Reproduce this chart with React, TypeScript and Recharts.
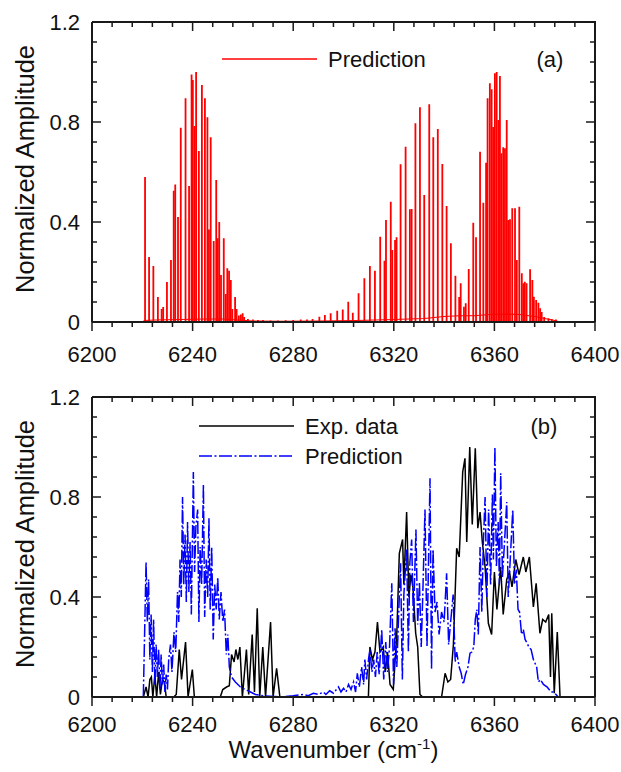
import React from 'react';
import { ComposedChart, Line, Bar, Scatter, XAxis, YAxis, Legend, Label } from 'recharts';

// axes
const wavenumberTicks = [6200, 6240, 6280, 6320, 6360, 6400];
const amplitudeTicks = [0, 0.4, 0.8, 1.2];
const amplitudeTickLabels = ['0', '0.4', '0.8', '1.2'];
const wavenumberMinorStep = 8;
const amplitudeMinorStep = 0.08;

// (a) predicted line positions / strengths
const stickWavenumbers = [
  6221.1, 6222.7, 6224.4, 6226.2, 6227.7, 6228.3, 6229.8, 6231.4, 6232.5, 6233.1,
  6234.2, 6235.3, 6237.2, 6238.6, 6239.6, 6240.1, 6240.8, 6241.4, 6242.5, 6243.7,
  6244.9, 6245.9, 6246.5, 6247.2, 6248.4, 6249.4, 6250.0, 6250.6, 6251.3, 6252.4,
  6253.2, 6253.8, 6254.5, 6255.2, 6255.8, 6256.9, 6257.5, 6258.4, 6259.2, 6259.9,
  6260.5, 6262.0, 6264.0, 6266.0, 6268.0, 6271.0, 6274.0, 6277.0, 6280.0, 6283.0,
  6285.5, 6287.7, 6290.4, 6292.6, 6294.9, 6297.5, 6299.7, 6301.9, 6303.7, 6306.0,
  6308.3, 6310.5, 6312.5, 6314.6, 6316.3, 6316.9, 6318.8, 6319.4, 6320.5, 6321.1,
  6322.7, 6324.7, 6326.4, 6327.1, 6328.6, 6330.4, 6332.1, 6334.1, 6335.7, 6337.5,
  6339.3, 6341.0, 6342.7, 6344.5, 6346.0, 6346.6, 6347.9, 6348.6, 6349.8, 6351.6,
  6352.7, 6354.3, 6355.6, 6356.7, 6357.3, 6358.2, 6358.9, 6359.5, 6360.2, 6360.9,
  6361.6, 6362.2, 6362.8, 6363.5, 6364.2, 6364.9, 6365.5, 6366.2, 6367.1, 6368.2,
  6368.9, 6369.9, 6370.9, 6371.5, 6372.1, 6372.8, 6374.2, 6375.1, 6375.7, 6376.6,
  6377.5, 6378.2, 6378.8, 6379.8, 6381.5, 6382.8, 6384.5,
];
const stickAmplitudes = [
  0.58, 0.26, 0.224, 0.1, 0.052, 0.06, 0.16, 0.248, 0.525, 0.55,
  0.42, 0.777, 0.895, 0.544, 0.99, 0.968, 0.784, 1.0, 0.684, 0.948,
  0.895, 0.819, 0.37, 0.739, 0.324, 0.568, 0.335, 0.4, 0.188, 0.335,
  0.112, 0.215, 0.205, 0.168, 0.052, 0.1, 0.052, 0.026, 0.03, 0.035,
  0.02, 0.012, 0.01, 0.008, 0.008, 0.006, 0.006, 0.007, 0.008, 0.01,
  0.01, 0.012, 0.021, 0.028, 0.035, 0.045, 0.05, 0.081, 0.037, 0.115,
  0.175, 0.224, 0.205, 0.341, 0.245, 0.408, 0.481, 0.288, 0.328, 0.339,
  0.631, 0.701, 0.451, 0.452, 0.795, 0.859, 0.508, 0.871, 0.739, 0.772,
  0.632, 0.464, 0.315, 0.185, 0.1, 0.155, 0.061, 0.075, 0.212, 0.397,
  0.339, 0.681, 0.477, 0.637, 0.895, 0.955, 0.931, 0.78, 0.995, 1.0,
  0.808, 0.984, 0.675, 0.699, 0.695, 0.808, 0.408, 0.411, 0.455, 0.455,
  0.248, 0.461, 0.195, 0.155, 0.161, 0.155, 0.211, 0.168, 0.101, 0.088,
  0.077, 0.055, 0.04, 0.02, 0.015, 0.012, 0.01,
];
// weak background under the lines
const floorWavenumbers = [6220.5, 6225, 6235, 6245, 6252, 6258, 6264, 6275, 6290, 6305, 6320, 6332, 6340, 6346, 6352, 6358, 6364, 6370, 6376, 6381, 6385];
const floorAmplitudes = [0.006, 0.008, 0.01, 0.012, 0.012, 0.008, 0.004, 0.003, 0.004, 0.006, 0.01, 0.014, 0.022, 0.025, 0.025, 0.03, 0.032, 0.03, 0.022, 0.012, 0.004];

// (b) measured spectrum
const expWavenumbers = [
  6220.4, 6221.5, 6222.3, 6223.0, 6223.6, 6224.2, 6225.0, 6225.7, 6226.5, 6227.2,
  6228.0, 6228.8, 6229.5, 6232.5, 6233.5, 6234.7, 6235.6, 6237.2, 6238.2, 6239.9,
  6240.7, 6251.0, 6252.0, 6253.5, 6254.6, 6255.5, 6256.5, 6257.2, 6258.0, 6258.8,
  6259.8, 6261.4, 6262.3, 6263.7, 6264.6, 6265.7, 6266.7, 6267.9, 6269.0, 6271.0,
  6272.0, 6273.4, 6274.7, 6309.9, 6310.5, 6311.5, 6312.5, 6313.5, 6314.5, 6315.8,
  6316.6, 6317.5, 6318.5, 6319.8, 6321.2, 6322.2, 6323.5, 6324.0, 6325.1, 6326.0,
  6326.8, 6327.6, 6328.7, 6329.5, 6330.4, 6331.5, 6339.0, 6340.4, 6341.5, 6342.6,
  6343.7, 6345.0, 6346.0, 6347.4, 6348.3, 6349.0, 6350.2, 6351.2, 6352.4, 6353.4,
  6354.3, 6355.2, 6356.3, 6357.6, 6358.9, 6360.0, 6361.0, 6362.5, 6363.5, 6364.9,
  6366.0, 6367.0, 6368.5, 6369.8, 6371.5, 6372.5, 6373.9, 6375.5, 6376.6, 6378.1,
  6379.2, 6380.4, 6381.6, 6382.3, 6382.8, 6383.8, 6385.0, 6386.1,
];
const expAmplitudes = [
  0, 0.04, 0, 0.07, 0.08, 0, 0.09, 0, 0.1, 0.01,
  0.07, 0.06, 0, 0, 0.01, 0.19, 0.07, 0.22, 0, 0.11,
  0, 0, 0.03, 0.04, 0.045, 0.17, 0.14, 0.19, 0.15, 0.2,
  0, 0.19, 0.01, 0.25, 0.02, 0.355, 0, 0.2, 0, 0.3,
  0, 0.115, 0, 0, 0.2, 0.15, 0.18, 0.3, 0.18, 0.2,
  0.1, 0.18, 0.05, 0.03, 0.255, 0.575, 0.63, 0.45, 0.74, 0.4,
  0.49, 0.44, 0.255, 0.2, 0.01, 0, 0, 0.095, 0.06, 0.07,
  0.21, 0.595, 0.56, 0.9, 0.955, 0.62, 1.0, 0.69, 0.995, 0.675,
  0.74, 0.62, 0.52, 0.295, 0.25, 0.5, 0.35, 0.52, 0.33, 0.47,
  0.5, 0.44, 0.55, 0.49, 0.56, 0.5, 0.56, 0.36, 0.455, 0.255,
  0.31, 0.3, 0.33, 0.08, 0.335, 0.015, 0.26, 0,
];

// (b) predicted spectrum
const predWavenumbers = [
  6220.4, 6221.5, 6222.0, 6222.5, 6223.0, 6223.5, 6224.0, 6224.5, 6225.0, 6225.5,
  6226.0, 6226.5, 6227.0, 6227.5, 6228.0, 6228.5, 6229.0, 6229.5, 6230.0, 6230.5,
  6231.2, 6231.8, 6232.6, 6233.3, 6234.0, 6234.5, 6235.0, 6235.5, 6236.0, 6236.5,
  6237.0, 6237.5, 6238.0, 6238.5, 6239.0, 6239.5, 6240.3, 6240.8, 6241.3, 6242.0,
  6242.5, 6243.0, 6243.6, 6244.3, 6244.8, 6245.4, 6246.0, 6246.5, 6247.0, 6247.6,
  6248.2, 6248.8, 6249.4, 6250.0, 6250.6, 6251.3, 6252.0, 6252.7, 6253.4, 6254.0,
  6254.6, 6255.5, 6257.0, 6259.0, 6261.0, 6263.0, 6265.0, 6268.0, 6275.0, 6280.0,
  6284.0, 6286.0, 6288.0, 6290.0, 6292.0, 6293.0, 6294.5, 6296.0, 6298.0, 6299.0,
  6300.0, 6301.0, 6302.0, 6303.0, 6304.0, 6304.8, 6305.5, 6306.3, 6307.2, 6308.0,
  6308.5, 6309.2, 6310.0, 6310.5, 6311.3, 6312.0, 6312.7, 6313.4, 6314.2, 6315.2,
  6316.0, 6316.8, 6317.5, 6318.3, 6319.2, 6319.9, 6320.5, 6321.2, 6322.0, 6322.7,
  6323.4, 6324.0, 6325.1, 6325.8, 6326.4, 6327.1, 6327.8, 6328.8, 6329.5, 6330.2,
  6330.9, 6331.5, 6332.4, 6333.2, 6334.4, 6335.0, 6335.6, 6336.4, 6337.2, 6338.0,
  6339.0, 6340.0, 6341.0, 6341.8, 6342.6, 6343.6, 6344.4, 6345.0, 6346.0, 6346.8,
  6347.6, 6348.5, 6349.5, 6350.3, 6351.0, 6351.8, 6352.4, 6353.0, 6353.6, 6354.3,
  6355.0, 6355.6, 6356.3, 6357.0, 6357.7, 6358.5, 6359.2, 6359.6, 6360.2, 6360.8,
  6361.5, 6362.0, 6362.5, 6363.2, 6364.0, 6364.9, 6365.5, 6366.3, 6367.3, 6368.0,
  6368.7, 6369.4, 6370.0, 6370.8, 6371.5, 6372.2, 6372.8, 6373.7, 6374.6, 6375.5,
  6376.8, 6377.5, 6378.3, 6379.5, 6381.0, 6382.5, 6383.4, 6384.5, 6385.4,
];
const predAmplitudes = [
  0, 0.54, 0.3, 0.47, 0.15, 0.33, 0.1, 0.31, 0.05, 0.21,
  0.08, 0.19, 0.03, 0.17, 0.05, 0.13, 0.02, 0.09, 0.03, 0.15,
  0.21, 0.1, 0.26, 0.18, 0.42, 0.3, 0.55, 0.4, 0.8, 0.45,
  0.65, 0.38, 0.7, 0.42, 0.62, 0.33, 0.9, 0.5, 0.68, 0.75,
  0.3, 0.6, 0.45, 0.85, 0.32, 0.55, 0.4, 0.715, 0.35, 0.6,
  0.23, 0.45, 0.35, 0.48, 0.31, 0.42, 0.3, 0.35, 0.17, 0.25,
  0.12, 0.08, 0.06, 0.04, 0.03, 0.02, 0.01, 0.005, 0, 0.005,
  0.01, 0.005, 0.015, 0.01, 0.02, 0.01, 0.025, 0.015, 0.04, 0.02,
  0.035, 0.02, 0.05, 0.03, 0.06, 0.02, 0.095, 0.04, 0.12, 0.05,
  0.15, 0.07, 0.155, 0.19, 0.1, 0.15, 0.08, 0.18, 0.09, 0.27,
  0.07, 0.22, 0.1, 0.2, 0.455, 0.05, 0.275, 0.12, 0.35, 0.535,
  0.07, 0.41, 0.59, 0.18, 0.54, 0.63, 0.3, 0.67, 0.29, 0.46,
  0.2, 0.4, 0.75, 0.2, 0.875, 0.11, 0.59, 0.34, 0.38, 0.25,
  0.34, 0.3, 0.495, 0.21, 0.3, 0.41, 0.14, 0.18, 0.12, 0.095,
  0.05, 0.09, 0.12, 0.175, 0.18, 0.2, 0.31, 0.35, 0.25, 0.6,
  0.34, 0.615, 0.8, 0.4, 0.75, 0.45, 0.81, 0.55, 1.0, 0.52,
  0.7, 0.45, 0.895, 0.48, 0.615, 0.78, 0.4, 0.55, 0.75, 0.45,
  0.51, 0.35, 0.34, 0.25, 0.27, 0.23, 0.22, 0.2, 0.19, 0.15,
  0.12, 0.06, 0.07, 0.05, 0.04, 0.02, 0.02, 0.01, 0,
];

const stickRows = stickWavenumbers.map((wn, i) => ({ wn, amp: stickAmplitudes[i] }));
const floorRows = floorWavenumbers.map((wn, i) => ({ wn, amp: floorAmplitudes[i] }));
const expRows = expWavenumbers.map((wn, i) => ({ wn, amp: expAmplitudes[i] }));
const predRows = predWavenumbers.map((wn, i) => ({ wn, amp: predAmplitudes[i] }));

const X_MIN = 6200;
const X_MAX = 6400;
const Y_MAX = 1.2;
const xMinorTicks = Array.from({ length: 26 }, (_, i) => X_MIN + i * wavenumberMinorStep);
const yMinorTicks = Array.from({ length: 16 }, (_, i) => +(i * amplitudeMinorStep).toFixed(2));

const isMajorX = (v: number) => wavenumberTicks.includes(v);
const majorYIndex = (v: number) => amplitudeTicks.findIndex((t) => Math.abs(t - v) < 1e-6);

// frame and tick-mark positions, placed through the chart's own scales
const frameRows = [
  { wn: X_MIN, amp: Y_MAX },
  { wn: X_MAX, amp: Y_MAX },
  { wn: X_MAX, amp: 0 },
];
const topTickRows = xMinorTicks.map((wn) => ({ wn, amp: Y_MAX, major: isMajorX(wn) }));
const bottomTickRows = xMinorTicks.map((wn) => ({ wn, amp: 0, major: isMajorX(wn) }));
const leftTickRows = yMinorTicks.map((amp) => ({ wn: X_MIN, amp, major: majorYIndex(amp) >= 0 }));
const rightTickRows = yMinorTicks.map((amp) => ({ wn: X_MAX, amp, major: majorYIndex(amp) >= 0 }));

const FONT = '"Liberation Sans", Arial, sans-serif';
const AXIS = '#1a1a1a';
const MAJOR = 9;
const MINOR = 5;

const CHART_W = 621;
const Y_AXIS_W = 92;
const X_AXIS_H = 40;
const M_TOP = 22;
const M_RIGHT = 26;
const TOP_H = 375;
const BOTTOM_H = 397;
const PLOT_H = 300;

const tickLen = (p: any) => (p.payload && p.payload.major ? MAJOR : MINOR);
const DownTick = (p: any) => <rect x={p.cx - 0.75} y={p.cy} width={1.5} height={tickLen(p)} fill={AXIS} />;
const RightwardTick = (p: any) => <rect x={p.cx} y={p.cy - 0.75} width={tickLen(p)} height={1.5} fill={AXIS} />;
const LeftwardTick = (p: any) => <rect x={p.cx - tickLen(p)} y={p.cy - 0.75} width={tickLen(p)} height={1.5} fill={AXIS} />;

const makeBottomLabel = (labelGap: number) => (props: any) => {
  const v = props.payload.value;
  if (!isMajorX(v)) return <g />;
  return (
    <text x={props.x} y={props.y + labelGap} textAnchor="middle" fontSize={22} fontFamily={FONT} fill="#111">
      {v}
    </text>
  );
};

const LeftLabel = (props: any) => {
  const idx = majorYIndex(props.payload.value);
  if (idx < 0) return <g />;
  return (
    <text x={props.x - 12} y={props.y + 8} textAnchor="end" fontSize={22} fontFamily={FONT} fill="#111">
      {amplitudeTickLabels[idx]}
    </text>
  );
};

// fixed-width stick drawn at the bar's centre
const Stick = (p: any) => {
  if (!p.height) return null;
  return <rect x={p.x + p.width / 2 - 0.9} y={p.y} width={1.8} height={p.height} fill="#ff0000" />;
};

const YTitle = ({ viewBox }: any) => {
  const cy = viewBox.y + viewBox.height / 2 - 3;
  return (
    <text x={34} y={cy} transform={`rotate(-90, 34, ${cy})`} textAnchor="middle" fontSize={25.5} fontFamily={FONT} fill="#111">
      Normalized Amplitude
    </text>
  );
};

const XTitle = ({ viewBox }: any) => (
  <text x={viewBox.x + viewBox.width / 2 - 10} y={viewBox.y + 61} textAnchor="middle" fontSize={24} fontFamily={FONT} fill="#111">
    Wavenumber (cm
    <tspan fontSize={15} dy={-9}>-1</tspan>
    <tspan dy={9}>)</tspan>
  </text>
);

const makeLegend = (rowY: number[], lineX: [number, number], tag: string, tagX: number) => ({ payload }: any) => {
  const items = (payload || []).filter((e: any) => e.type !== 'none' && !e.inactive && e.value);
  return (
    <svg width={CHART_W} height={100} style={{ display: 'block' }}>
      {items.slice(0, rowY.length).map((entry: any, i: number) => (
        <g key={entry.value}>
          <line
            x1={lineX[0]}
            x2={lineX[1]}
            y1={rowY[i]}
            y2={rowY[i]}
            stroke={entry.color}
            strokeWidth={1.6}
            strokeDasharray={entry.payload?.strokeDasharray}
          />
          <text x={lineX[1] + 11} y={rowY[i] + 8} fontSize={22} fontFamily={FONT} fill="#111">
            {entry.value}
          </text>
        </g>
      ))}
      <text x={tagX} y={rowY[0] + 8} textAnchor="middle" fontSize={22} fontFamily={FONT} fill="#111">
        {tag}
      </text>
    </svg>
  );
};

const axes = (withTitle: boolean, labelGap: number) => [
  <XAxis
    key="xb"
    xAxisId="b"
    dataKey="wn"
    type="number"
    domain={[X_MIN, X_MAX]}
    ticks={xMinorTicks}
    interval={0}
    tickSize={0}
    tickMargin={0}
    tickLine={false}
    tick={makeBottomLabel(labelGap)}
    height={X_AXIS_H}
    axisLine={{ stroke: AXIS, strokeWidth: 2 }}
  >
    {withTitle && <Label content={XTitle} />}
  </XAxis>,
  <YAxis
    key="yl"
    yAxisId="l"
    type="number"
    domain={[0, Y_MAX]}
    ticks={yMinorTicks}
    interval={0}
    tickSize={0}
    tickMargin={0}
    tickLine={false}
    tick={LeftLabel}
    width={Y_AXIS_W}
    axisLine={{ stroke: AXIS, strokeWidth: 2 }}
  >
    <Label content={YTitle} />
  </YAxis>,
];

const frame = () => [
  <Line
    key="frame"
    xAxisId="b"
    yAxisId="l"
    data={frameRows}
    dataKey="amp"
    stroke={AXIS}
    strokeWidth={2}
    dot={false}
    legendType="none"
    isAnimationActive={false}
  />,
  <Scatter key="tt" xAxisId="b" yAxisId="l" data={topTickRows} dataKey="amp" shape={DownTick} legendType="none" isAnimationActive={false} />,
  <Scatter key="bt" xAxisId="b" yAxisId="l" data={bottomTickRows} dataKey="amp" shape={DownTick} legendType="none" isAnimationActive={false} />,
  <Scatter key="lt" xAxisId="b" yAxisId="l" data={leftTickRows} dataKey="amp" shape={RightwardTick} legendType="none" isAnimationActive={false} />,
  <Scatter key="rt" xAxisId="b" yAxisId="l" data={rightTickRows} dataKey="amp" shape={LeftwardTick} legendType="none" isAnimationActive={false} />,
];

export default function App() {
  return (
    <div style={{ position: 'absolute', left: 0, top: 0, width: CHART_W, height: 772, background: '#fff' }}>
      <ComposedChart
        width={CHART_W}
        height={TOP_H}
        data={stickRows}
        margin={{ top: M_TOP, right: M_RIGHT, left: 0, bottom: TOP_H - M_TOP - PLOT_H - X_AXIS_H }}
      >
        {axes(false, 40)}
        <Line
          xAxisId="b"
          yAxisId="l"
          data={floorRows}
          dataKey="amp"
          stroke="#ff0000"
          strokeWidth={1.2}
          dot={false}
          legendType="none"
          isAnimationActive={false}
        />
        <Bar
          xAxisId="b"
          yAxisId="l"
          dataKey="amp"
          name="Prediction"
          fill="#ff0000"
          barSize={2}
          shape={Stick}
          isAnimationActive={false}
        />
        {frame()}
        <Legend
          layout="vertical"
          align="center"
          verticalAlign="middle"
          wrapperStyle={{ position: 'absolute', left: 0, top: 0, width: CHART_W, height: 100 }}
          content={makeLegend([59], [222, 317], '(a)', 550)}
        />
      </ComposedChart>
      <ComposedChart
        width={CHART_W}
        height={BOTTOM_H}
        margin={{ top: M_TOP, right: M_RIGHT, left: 0, bottom: BOTTOM_H - M_TOP - PLOT_H - X_AXIS_H }}
      >
        {axes(true, 35)}
        <Line
          xAxisId="b"
          yAxisId="l"
          data={expRows}
          dataKey="amp"
          name="Exp. data"
          stroke="#000000"
          strokeWidth={1.5}
          dot={false}
          type="linear"
          isAnimationActive={false}
        />
        <Line
          xAxisId="b"
          yAxisId="l"
          data={predRows}
          dataKey="amp"
          name="Prediction"
          stroke="#0000ff"
          strokeWidth={1.5}
          strokeDasharray="13 2.5 2 2.5"
          dot={false}
          type="linear"
          isAnimationActive={false}
        />
        {frame()}
        <Legend
          layout="vertical"
          align="center"
          verticalAlign="middle"
          wrapperStyle={{ position: 'absolute', left: 0, top: 0, width: CHART_W, height: 100 }}
          content={makeLegend([51, 81], [199, 294], '(b)', 544)}
        />
      </ComposedChart>
    </div>
  );
}
